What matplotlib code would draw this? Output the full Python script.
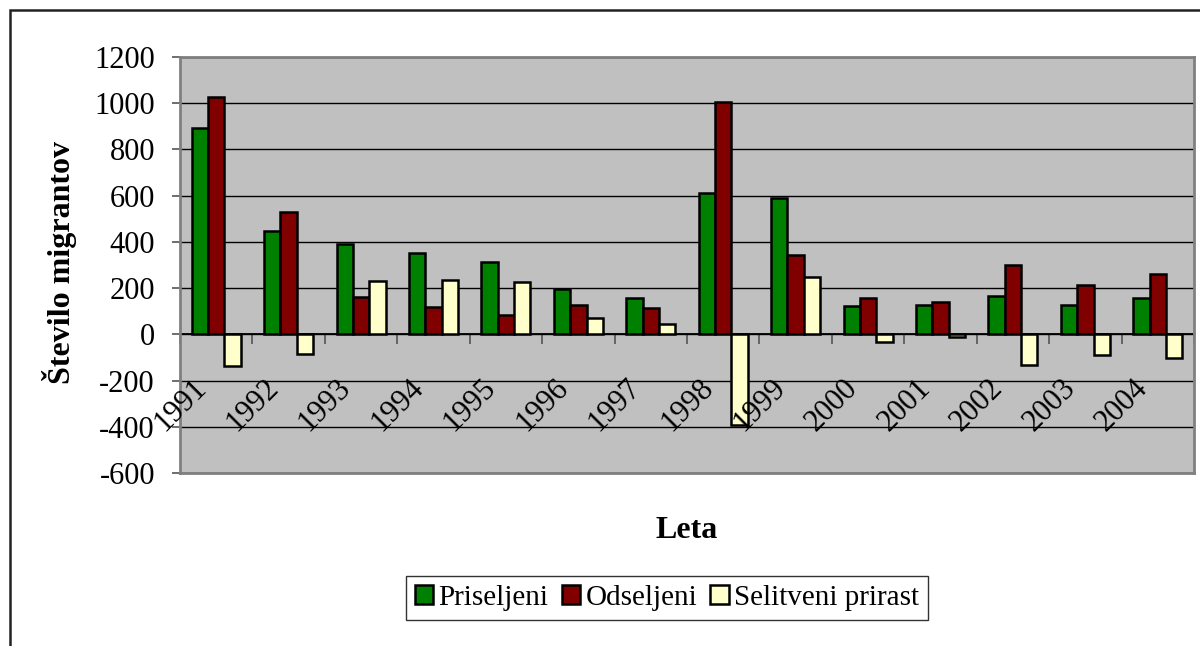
import matplotlib
matplotlib.use("Agg")
import matplotlib.pyplot as plt
import matplotlib.transforms as mtransforms
from matplotlib.patches import Rectangle
import numpy as np

# data
years = ["1991", "1992", "1993", "1994", "1995", "1996", "1997",
         "1998", "1999", "2000", "2001", "2002", "2003", "2004"]
priseljeni = [892, 448, 390, 352, 311, 197, 156, 610, 591, 121, 129, 168, 126, 156]
odseljeni = [1029, 531, 161, 118, 83, 128, 112, 1004, 343, 156, 141, 300, 215, 260]
prirast = [-137, -83, 229, 234, 228, 69, 44, -394, 248, -35, -12, -132, -89, -104]

series_names = ["Priseljeni", "Odseljeni", "Selitveni prirast"]
series_colors = ["#008000", "#800000", "#FFFFCC"]
y_ticks = [-600, -400, -200, 0, 200, 400, 600, 800, 1000, 1200]

plt.rcParams["font.family"] = ["Liberation Serif", "DejaVu Serif"]

fig = plt.figure(figsize=(12, 6.46), dpi=100)
ax = fig.add_axes([180 / 1200, 1 - 473 / 646, 1014 / 1200, 416 / 646])
ax.set_facecolor("#C0C0C0")

x = np.arange(len(years))
w = 0.225
for k, (vals, name, col) in enumerate(zip([priseljeni, odseljeni, prirast],
                                          series_names, series_colors)):
    ax.bar(x + (k - 1) * w, vals, width=w, color=col, edgecolor="black",
           linewidth=1.8, label=name, zorder=3)

ax.set_xlim(-0.5, len(years) - 0.5)
ax.set_ylim(-600, 1200)
ax.set_yticks(y_ticks)
ax.set_yticklabels([str(v) for v in y_ticks])
ax.yaxis.grid(True, color="black", linewidth=1)
ax.set_axisbelow(True)
ax.set_xticks([])
ax.tick_params(axis="y", direction="out", length=6, width=1.2, color="#555555",
               labelsize=22, pad=12)
for sp in ax.spines.values():
    sp.set_color("#808080")
    sp.set_linewidth(2)

# category axis crossing at zero
sec = ax.secondary_xaxis(0, transform=ax.transData)
sec.set_xticks(np.arange(-0.5, len(years), 1.0))
sec.set_xticklabels([])
sec.tick_params(direction="out", length=7, width=1.2, color="#555555")
sec.spines["bottom"].set_color("black")
sec.spines["bottom"].set_linewidth(1.3)

lab_tr = mtransforms.offset_copy(ax.transData, fig=fig, x=-14.5, y=-49, units="dots")
for i, yr in enumerate(years):
    ax.text(i, 0, yr, transform=lab_tr, rotation=45, rotation_mode="anchor",
            ha="right", va="center", fontsize=22, zorder=5, clip_on=False)

fig.text(59.5 / 1200, 1 - 262 / 646, "Število migrantov", rotation=90,
         ha="center", va="center", fontsize=23, fontweight="bold")
fig.text(687 / 1200, 1 - 530 / 646, "Leta", ha="center", va="center",
         fontsize=23, fontweight="bold")

leg = fig.legend(loc="center", bbox_to_anchor=(667 / 1200, 1 - 598 / 646), ncol=3,
                 fontsize=21, frameon=True, fancybox=False, handlelength=0.62,
                 handleheight=0.62, handletextpad=0.2, columnspacing=0.45,
                 borderpad=0.3, borderaxespad=0)
leg.get_frame().set_edgecolor("black")
leg.get_frame().set_linewidth(1)

# outer chart border
fig.patches.append(Rectangle((9.5 / 1200, -0.1), 1.2, 1.1 - 10 / 646,
                             transform=fig.transFigure, fill=False,
                             edgecolor="#222222", linewidth=1.8))

fig.savefig("out.png", dpi=100)
